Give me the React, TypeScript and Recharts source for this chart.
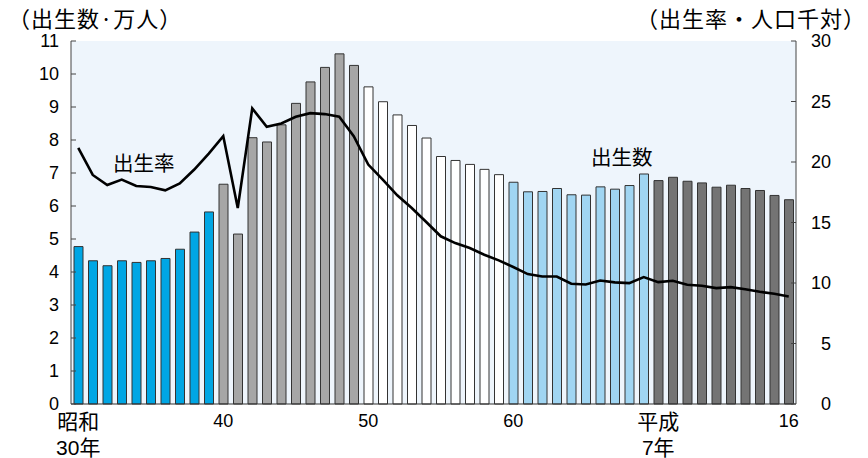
import React from "react";
import {
  ComposedChart,
  Bar,
  Line,
  Cell,
  XAxis,
  YAxis,
  CartesianGrid,
} from "recharts";

// 昭和30年 (1955) .. 平成16年 (2004)
const years = [
  "S30", "S31", "S32", "S33", "S34", "S35", "S36", "S37", "S38", "S39",
  "S40", "S41", "S42", "S43", "S44", "S45", "S46", "S47", "S48", "S49",
  "S50", "S51", "S52", "S53", "S54", "S55", "S56", "S57", "S58", "S59",
  "S60", "S61", "S62", "S63", "H1", "H2", "H3", "H4", "H5", "H6",
  "H7", "H8", "H9", "H10", "H11", "H12", "H13", "H14", "H15", "H16",
];

// 出生数 (万人)
const births = [
  4.77, 4.34, 4.19, 4.34, 4.29, 4.34, 4.41, 4.69, 5.21, 5.82,
  6.66, 5.15, 8.07, 7.94, 8.46, 9.11, 9.76, 10.2, 10.61, 10.26,
  9.61, 9.16, 8.76, 8.44, 8.06, 7.5, 7.38, 7.26, 7.11, 6.95,
  6.72, 6.43, 6.44, 6.53, 6.34, 6.33, 6.58, 6.51, 6.62, 6.97,
  6.77, 6.87, 6.75, 6.7, 6.57, 6.63, 6.53, 6.47, 6.32, 6.19,
];

// 出生率 (人口千対)
const rates = [
  21.17, 18.93, 18.1, 18.55, 18.02, 17.94, 17.66, 18.22, 19.38, 20.7,
  22.14, 16.2, 24.43, 22.91, 23.19, 23.74, 24.04, 23.96, 23.74, 22.14,
  19.79, 18.55, 17.25, 16.2, 15.04, 13.86, 13.3, 12.89, 12.34, 11.87,
  11.32, 10.74, 10.54, 10.54, 9.94, 9.88, 10.21, 10.05, 9.99, 10.49,
  10.07, 10.18, 9.85, 9.77, 9.58, 9.66, 9.49, 9.27, 9.11, 8.89,
];

const xTickLabels: Record<string, string[]> = {
  S30: ["昭和", "30年"],
  S40: ["40"],
  S50: ["50"],
  S60: ["60"],
  H7: ["平成", "7年"],
  H16: ["16"],
};

const leftTicks = [0, 1, 2, 3, 4, 5, 6, 7, 8, 9, 10, 11];
const rightTicks = [0, 5, 10, 15, 20, 25, 30];

// one colour per 10-year group
const GROUP_COLORS = ["#00a6e4", "#a6a6a6", "#ffffff", "#a0d5f2", "#747474"];

const FONT = "'Liberation Sans', Arial, 'Noto Sans CJK JP', sans-serif";
const CJK = "'Noto Sans CJK JP', 'Liberation Sans', sans-serif";

const data = years.map((year, i) => ({
  year,
  births: births[i],
  rate: rates[i],
}));

const XTick = (props: any) => {
  const { x, y, payload } = props;
  const lines = xTickLabels[payload.value];
  if (!lines) return null;
  return (
    <g>
      {lines.map((t, k) => {
        const numeric = /^[0-9]+$/.test(t);
        return (
          <text
            key={k}
            x={x}
            y={y + 17 + k * 26}
            dy="0.36em"
            textAnchor="middle"
            fontSize={numeric ? 18 : 21}
            fontFamily={FONT}
            fill="#000"
          >
            {t}
          </text>
        );
      })}
    </g>
  );
};

const LeftTick = (props: any) => {
  const { x, y, payload } = props;
  return (
    <g>
      <line x1={x} x2={x + 5} y1={y} y2={y} stroke="#444" strokeWidth={1} />
      <text x={x - 12} y={y} dy="0.36em" textAnchor="end" fontSize={18} fontFamily={FONT} fill="#000">
        {payload.value}
      </text>
    </g>
  );
};

const RightTick = (props: any) => {
  const { x, y, payload } = props;
  return (
    <g>
      <line x1={x - 5} x2={x} y1={y} y2={y} stroke="#444" strokeWidth={1} />
      <text x={x + 35} y={y} dy="0.36em" textAnchor="end" fontSize={18} fontFamily={FONT} fill="#000">
        {payload.value}
      </text>
    </g>
  );
};

const App = () => {
  return (
    <div style={{ position: "absolute", left: 0, top: 0, width: 868, height: 458, background: "#fff" }}>
      <ComposedChart
        width={868}
        height={458}
        data={data}
        margin={{ top: 41, right: 12, left: 11, bottom: 0 }}
        barCategoryGap="0%"
      >
        <CartesianGrid horizontal={false} vertical={false} fill="#eef5fc" stroke="none" />
        <XAxis
          dataKey="year"
          interval={0}
          tick={<XTick />}
          tickLine={false}
          tickSize={0}
          tickMargin={0}
          height={54}
          axisLine={{ stroke: "#333" }}
        />
        <YAxis
          yAxisId="left"
          domain={[0, 11]}
          ticks={leftTicks}
          width={60}
          tickLine={false}
          tickSize={0}
          tickMargin={0}
          tick={<LeftTick />}
          axisLine={{ stroke: "#444" }}
        />
        <YAxis
          yAxisId="right"
          orientation="right"
          domain={[0, 30]}
          ticks={rightTicks}
          width={60}
          tickLine={false}
          tickSize={0}
          tickMargin={0}
          tick={<RightTick />}
          axisLine={{ stroke: "#444" }}
        />
        <Bar
          yAxisId="left"
          dataKey="births"
          barSize={9}
          stroke="#333"
          strokeWidth={1}
          isAnimationActive={false}
        >
          {data.map((d, i) => (
            <Cell key={d.year} fill={GROUP_COLORS[Math.floor(i / 10)]} />
          ))}
        </Bar>
        <Line
          yAxisId="right"
          dataKey="rate"
          type="linear"
          stroke="#000"
          strokeWidth={2.6}
          dot={false}
          activeDot={false}
          isAnimationActive={false}
        />
      </ComposedChart>
      <svg
        width={868}
        height={458}
        style={{ position: "absolute", left: 0, top: 0, pointerEvents: "none" }}
      >
        <text x={8} y={19} dy="0.36em" fontSize={22} letterSpacing={1} fontFamily={CJK} fill="#000">
          （出生数·万人）
        </text>
        <text x={866} y={19} dy="0.36em" textAnchor="end" fontSize={22} letterSpacing={1} fontFamily={CJK} fill="#000">
          （出生率・人口千対）
        </text>
        <text x={113} y={164} dy="0.36em" fontSize={20.5} fontFamily={CJK} fill="#000">
          出生率
        </text>
        <text x={591} y={158} dy="0.36em" fontSize={20.5} fontFamily={CJK} fill="#000">
          出生数
        </text>
      </svg>
    </div>
  );
};

export default App;
